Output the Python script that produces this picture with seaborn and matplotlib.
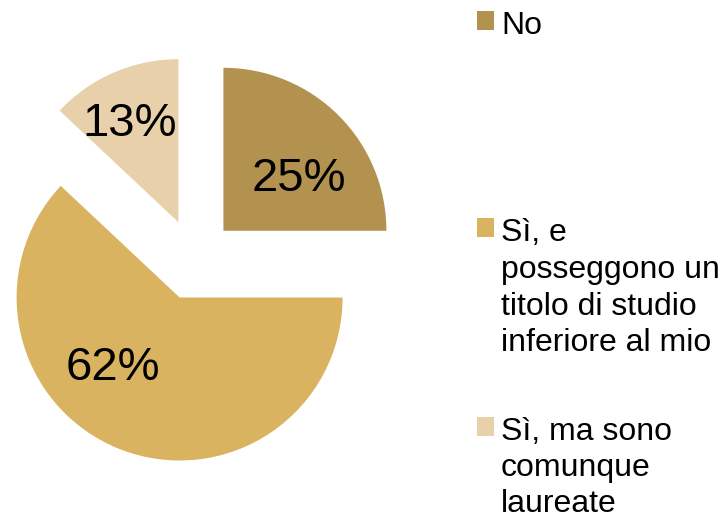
import numpy as np
import matplotlib
matplotlib.use("Agg")
import matplotlib.pyplot as plt
from matplotlib.offsetbox import HPacker
import seaborn as sns

# dati
categorie = ["No",
             "Sì, e\nposseggono un\ntitolo di studio\ninferiore al mio",
             "Sì, ma sono\ncomunque\nlaureate"]
percentuali = [25, 62, 13]
colori = ["#B3924F", "#D9B35F", "#E8D0AA"]

# stile / layout
esplosione = [0.25, 0.25, 0.25]
# posizione etichette rispetto al centro di ogni spicchio (x, y in raggi)
offset_etichette = [(0.46, 0.32), (-0.41, -0.43), (-0.30, 0.60)]
legenda_top = [0.979, 0.582, 0.2]
interlinea = [1.3, 1.3, 1.26]

sns.set_theme(style="white")
plt.rcParams["font.family"] = ["Liberation Sans", "DejaVu Sans"]

W, H = 721, 521
fig = plt.figure(figsize=(W / 100, H / 100), dpi=100)
ax = fig.add_axes([0, 0, 1, 1])

wedges, texts, autotexts = ax.pie(
    percentuali, explode=esplosione, colors=colori, startangle=90,
    counterclock=False, autopct="%1.0f%%", radius=1,
    wedgeprops=dict(linewidth=0),
    textprops=dict(fontsize=34, color="black"))

for w, t, (dx, dy) in zip(wedges, autotexts, offset_etichette):
    cx, cy = w.center
    t.set_position((cx + dx, cy + dy))
    t.set_ha("center")
    t.set_va("center")

# centro torta in pixel e raggio
cx_px, cy_px, r_px = 194.6, 259.6, 163
ax.set_xlim(-cx_px / r_px, (W - cx_px) / r_px)
ax.set_ylim(-(H - cy_px) / r_px, cy_px / r_px)
ax.set_aspect("equal")
ax.axis("off")

for w, lab, top, ls in zip(wedges, categorie, legenda_top, interlinea):
    leg = fig.legend([w], [lab], loc="upper left",
                     bbox_to_anchor=(477 / W, top), frameon=False,
                     fontsize=23, handlelength=0.53, handleheight=0.53,
                     handletextpad=0.22, borderpad=0, borderaxespad=0,
                     labelcolor="black")
    for t in leg.get_texts():
        t.set_linespacing(ls)
    # quadratino allineato alla prima riga
    for box in leg.findobj(HPacker):
        box.align = "top"

fig.savefig("out.png", dpi=100)
